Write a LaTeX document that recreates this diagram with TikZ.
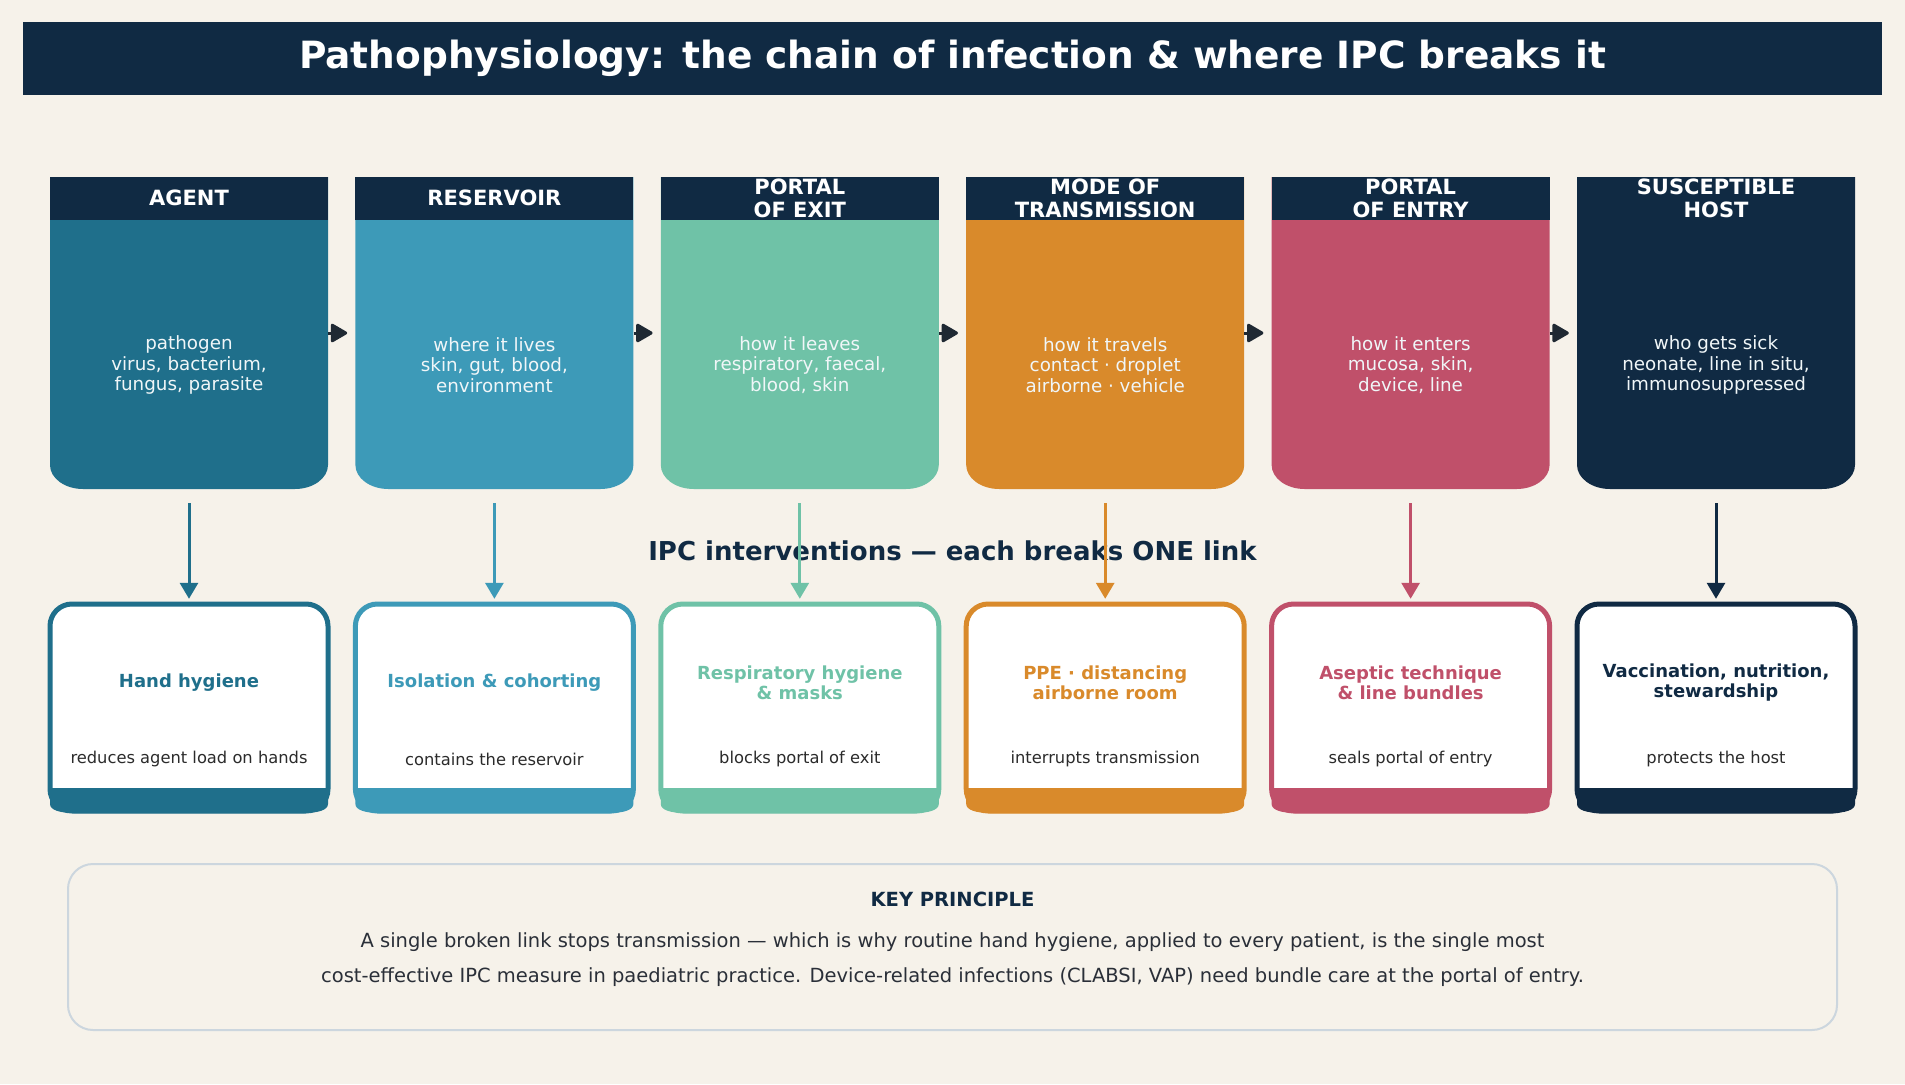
\documentclass[tikz,border=0pt]{standalone}
\usepackage{fontspec}
\setmainfont{DejaVu Sans}
\usetikzlibrary{arrows.meta}
\definecolor{bgc}{HTML}{F6F2EA}
\definecolor{navy}{HTML}{102A43}
\definecolor{agentc}{HTML}{1F6F8B}
\definecolor{resc}{HTML}{3D9AB8}
\definecolor{exitc}{HTML}{6FC2A7}
\definecolor{modec}{HTML}{D98A2B}
\definecolor{entryc}{HTML}{C0506A}
\definecolor{arrowc}{HTML}{1F2933}
\definecolor{bodyw}{HTML}{F0F6F8}
\definecolor{subc}{HTML}{2B2B2B}
\definecolor{keyline}{HTML}{CCD6DE}
\definecolor{keytext}{HTML}{2A2F38}
\tikzset{
  cardbox/.style={rectangle, minimum width=278pt, minimum height=312pt, inner sep=0pt},
  intbox/.style={rectangle, minimum width=278pt, minimum height=209pt, inner sep=0pt},
  headtxt/.style={text=white, font=\fontsize{21}{23}\selectfont\bfseries, align=center, inner sep=0pt},
  bodytxt/.style={text=bodyw, font=\fontsize{18.3}{20.5}\selectfont, align=center, inner sep=0pt},
  inttitle/.style={font=\fontsize{18}{20}\selectfont\bfseries, align=center, inner sep=0pt},
  intsub/.style={text=subc, font=\fontsize{16.3}{19}\selectfont, inner sep=0pt},
  chainarrow/.style={draw=arrowc, line width=3pt, -{Triangle[length=18pt,width=20pt,round]}, shorten >=8pt},
  downarrow/.style={line width=3pt, -{Triangle[length=16pt,width=18pt]}, shorten <=14pt, shorten >=5pt},
}
\newcommand{\chaincard}[5]{%
  \node[cardbox] (#1) at (#2+139,333) {};
  \fill[#3] (#2,177) -- (#2,465) .. controls (#2,478.2) and (#2+14.8,489) .. (#2+33,489) -- (#2+245,489) .. controls (#2+263.2,489) and (#2+278,478.2) .. (#2+278,465) -- (#2+278,177) -- cycle;
  \fill[navy] (#2,177) rectangle (#2+278,220);
  \node[headtxt] (#1h) at (#2+139,198) {#4};
  \node[bodytxt] (#1b) at (#2+139,365) {#5};
}
\newcommand{\ipccard}[5]{%
  \node[intbox] (#1) at (#2+139,708.5) {};
  \filldraw[fill=white, draw=#3, line width=5pt, rounded corners=22pt] (#2,604) rectangle (#2+278,811);
  \fill[#3] (#2,788) -- (#2,804) .. controls (#2,810) and (#2+10,813) .. (#2+24,813) -- (#2+254,813) .. controls (#2+268,813) and (#2+278,810) .. (#2+278,804) -- (#2+278,788) -- cycle;
  \node[inttitle, text=#3] (#1t) at (#2+139,683) {#4};
  \node[intsub] (#1s) at (#2+139,759) {#5};
}
\begin{document}
\begin{tikzpicture}[x=1pt, y=-1pt]
\fill[bgc] (0,0) rectangle (1905,1084);
\useasboundingbox (0,0) rectangle (1905,1084);
% title
\fill[navy] (23,22) rectangle (1882,95);
\node[text=white, font=\fontsize{37.5}{40}\selectfont\bfseries, inner sep=0pt] (title) at (952.5,58) {Pathophysiology: the chain of infection \& where IPC breaks it};
% chain
\chaincard{c1}{50}{agentc}{AGENT}{pathogen\\virus, bacterium,\\fungus, parasite}
\chaincard{c2}{355.4}{resc}{RESERVOIR}{where it lives\\skin, gut, blood,\\environment}
\chaincard{c3}{660.8}{exitc}{PORTAL\\OF EXIT}{how it leaves\\respiratory, faecal,\\blood, skin}
\chaincard{c4}{966.2}{modec}{MODE OF\\TRANSMISSION}{how it travels\\contact · droplet\\airborne · vehicle}
\chaincard{c5}{1271.6}{entryc}{PORTAL\\OF ENTRY}{how it enters\\mucosa, skin,\\device, line}
\chaincard{c6}{1577}{navy}{SUSCEPTIBLE\\HOST}{who gets sick\\neonate, line in situ,\\immunosuppressed}
\draw[chainarrow] (c1.east) -- (c2.west);
\draw[chainarrow] (c2.east) -- (c3.west);
\draw[chainarrow] (c3.east) -- (c4.west);
\draw[chainarrow] (c4.east) -- (c5.west);
\draw[chainarrow] (c5.east) -- (c6.west);
% middle label
\node[text=navy, font=\fontsize{26}{28}\selectfont\bfseries, inner sep=0pt] (ipc) at (952.5,551) {IPC interventions — each breaks ONE link};
% interventions
\ipccard{i1}{50}{agentc}{Hand hygiene}{reduces agent load on hands}
\ipccard{i2}{355.4}{resc}{Isolation \& cohorting}{contains the reservoir}
\ipccard{i3}{660.8}{exitc}{Respiratory hygiene\\\& masks}{blocks portal of exit}
\ipccard{i4}{966.2}{modec}{PPE · distancing\\airborne room}{interrupts transmission}
\ipccard{i5}{1271.6}{entryc}{Aseptic technique\\\& line bundles}{seals portal of entry}
\ipccard{i6}{1577}{navy}{Vaccination, nutrition,\\stewardship}{protects the host}
\draw[downarrow, agentc] (c1.south) -- (i1.north);
\draw[downarrow, resc] (c2.south) -- (i2.north);
\draw[downarrow, exitc] (c3.south) -- (i3.north);
\draw[downarrow, modec] (c4.south) -- (i4.north);
\draw[downarrow, entryc] (c5.south) -- (i5.north);
\draw[downarrow, navy] (c6.south) -- (i6.north);
% key principle
\draw[keyline, line width=2pt, rounded corners=25pt] (68,864) rectangle (1837,1030);
\node[text=navy, font=\fontsize{19.5}{22}\selectfont\bfseries, inner sep=0pt] (kp) at (952.5,899) {KEY PRINCIPLE};
\node[text=keytext, font=\fontsize{19.5}{22}\selectfont, inner sep=0pt, anchor=base] (kl1) at (952.5,947) {A single broken link stops transmission — which is why routine hand hygiene, applied to every patient, is the single most};
\node[text=keytext, font=\fontsize{19.5}{22}\selectfont, inner sep=0pt, anchor=base] (kl2) at (952.5,982) {cost-effective IPC measure in paediatric practice. Device-related infections (CLABSI, VAP) need bundle care at the portal of entry.};
\end{tikzpicture}
\end{document}
